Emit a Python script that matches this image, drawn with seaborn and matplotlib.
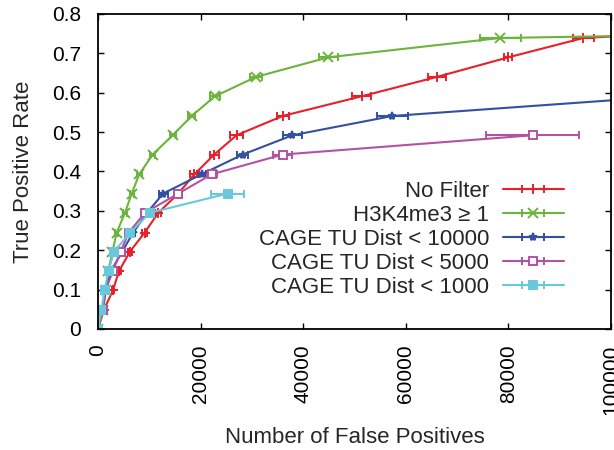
import numpy as np
import matplotlib
matplotlib.use("Agg")
import matplotlib.pyplot as plt
import seaborn as sns

# true positive rate levels (shared step between points)
tpr = [0.0, 0.049, 0.098, 0.147, 0.196, 0.245, 0.295, 0.344, 0.393,
       0.443, 0.492, 0.541, 0.591, 0.640, 0.690, 0.739, 0.76]

# number of false positives per series
fp_nofilter = [0, 1170, 2900, 4100, 6200, 9100, 11750, 15650, 18800,
               22650, 27000, 36000, 51400, 66000, 80000, 94600, 125000]
err_nofilter = [0, 150, 250, 300, 400, 500, 600, 700, 800,
                900, 1200, 1150, 1800, 1750, 800, 2100, 3000]

fp_h3k4 = [0, 1030, 1500, 2000, 2800, 3650, 5260, 6570, 8050,
           10650, 14550, 18250, 22800, 30750, 44900, 78400, 150000]
err_h3k4 = [0, 100, 150, 200, 250, 300, 350, 400, 450,
            500, 600, 700, 900, 1150, 1800, 4000, 5000]
tpr_h3k4 = tpr[:16] + [0.755]

fp_cage10k = [0, 780, 1560, 2530, 4680, 6880, 9550, 12700, 20200,
              28200, 37900, 57400, 110000]
err_cage10k = [0, 100, 150, 200, 300, 400, 500, 900, 900,
               1100, 1850, 3100, 4000]
tpr_cage10k = tpr[:12] + [0.59]

fp_cage5k = [0, 880, 1460, 2900, 4400, 6000, 9150, 15650, 22200,
             36000, 84700]
err_cage5k = [0, 100, 150, 200, 300, 400, 500, 800, 1000,
              1800, 9100]
tpr_cage5k = tpr[:11]

fp_cage1k = [0, 680, 1270, 2050, 3100, 6300, 10100, 25300]
err_cage1k = [0, 80, 120, 150, 200, 300, 500, 3250]
tpr_cage1k = tpr[:8]

labels = ["No Filter", "H3K4me3 \u2265 1", "CAGE TU Dist < 10000",
          "CAGE TU Dist < 5000", "CAGE TU Dist < 1000"]
colors = ["#e8202a", "#6cb43e", "#3450a2", "#b452a2", "#68c8dc"]
markers = ["+", "x", "*", "s", "s"]
fills = [True, True, True, False, True]

sns.set_theme(style="ticks", rc={"xtick.direction": "in", "ytick.direction": "in"})
plt.rcParams['font.family'] = ['Liberation Sans', 'DejaVu Sans']

fig = plt.figure(figsize=(6.14, 4.5), dpi=100)
ax = fig.add_axes([0.1596, 0.2689, 0.8355, 0.7000])

series = [
    (fp_nofilter, tpr, err_nofilter),
    (fp_h3k4, tpr_h3k4, err_h3k4),
    (fp_cage10k, tpr_cage10k, err_cage10k),
    (fp_cage5k, tpr_cage5k, err_cage5k),
    (fp_cage1k, tpr_cage1k, err_cage1k),
]

for i, (x, y, e) in enumerate(series):
    c = colors[i]
    ms = 6 if markers[i] in ("s", "*") else 7
    ax.errorbar(x, y, xerr=e, color=c, marker=markers[i], markersize=ms,
                markerfacecolor=c if fills[i] else "white",
                markeredgecolor=c, markeredgewidth=1.4, linewidth=1.5,
                elinewidth=1.5, capsize=3, capthick=1.4, label=labels[i])

ax.set_xlim(0, 100000)
ax.set_ylim(0, 0.8)
ax.set_xticks([0, 20000, 40000, 60000, 80000, 100000])
ax.set_xticklabels(["0", "20000", "40000", "60000", "80000", "100000"], rotation=90)
ax.set_yticks(np.arange(0, 0.81, 0.1))
ax.set_yticklabels(["0", "0.1", "0.2", "0.3", "0.4", "0.5", "0.6", "0.7", "0.8"])
ax.tick_params(axis="both", labelsize=15, length=4.5, width=1, colors="black",
               top=True, right=True, pad=11)
ax.tick_params(axis="y", pad=12)
for s in ax.spines.values():
    s.set_linewidth(1.3)
    s.set_color("black")

ax.set_xlabel("Number of False Positives", fontsize=16, labelpad=9)
ax.set_ylabel("True Positive Rate", fontsize=16, labelpad=13)

# markerfirst=False right-aligns the labels against the handles
leg = ax.legend(loc="lower right", bbox_to_anchor=(0.908, 0.098), frameon=False,
                fontsize=16, markerfirst=False, handlelength=2.75,
                labelspacing=0.14, handletextpad=0.6, borderpad=0,
                borderaxespad=0)

fig.savefig("out.png", dpi=100)
